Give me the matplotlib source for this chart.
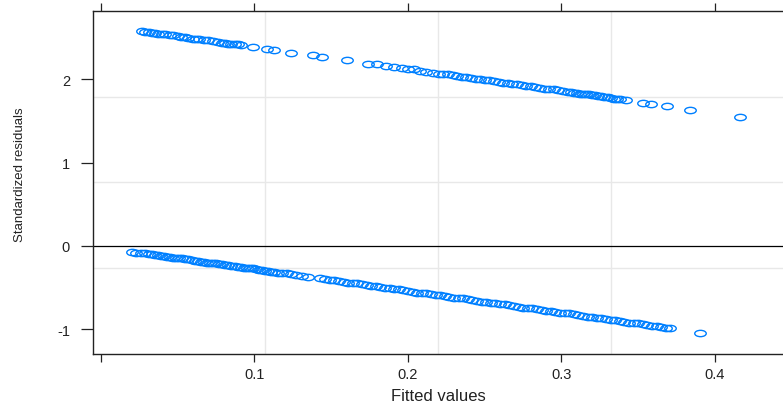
import matplotlib
matplotlib.use("Agg")
import matplotlib.pyplot as plt
from matplotlib.path import Path
from matplotlib.transforms import Affine2D

plt.rcParams["font.family"] = ["Liberation Sans", "DejaVu Sans"]

# fitted values and standardized residuals, upper band (observed = 1)
fit_hi = [0.027, 0.029, 0.031, 0.033, 0.035, 0.037, 0.040, 0.042, 0.045, 0.047,
          0.050, 0.052, 0.055, 0.057, 0.060, 0.062, 0.064, 0.067, 0.070, 0.073,
          0.076, 0.079, 0.081, 0.083, 0.085, 0.087, 0.089, 0.091, 0.099, 0.108,
          0.113, 0.124, 0.138, 0.144, 0.160, 0.174, 0.180, 0.186, 0.191, 0.196,
          0.200, 0.204, 0.208, 0.212, 0.216, 0.220, 0.223, 0.226, 0.229, 0.232,
          0.235, 0.238, 0.241, 0.244, 0.247, 0.250, 0.253, 0.256, 0.259, 0.262,
          0.265, 0.268, 0.271, 0.274, 0.277, 0.280, 0.283, 0.286, 0.289, 0.292,
          0.295, 0.298, 0.301, 0.304, 0.306, 0.308, 0.310, 0.312, 0.314, 0.316,
          0.318, 0.320, 0.322, 0.324, 0.326, 0.328, 0.330, 0.332, 0.334, 0.336,
          0.338, 0.342, 0.353, 0.358, 0.369, 0.384, 0.416]
res_hi = [2.58, 2.57, 2.57, 2.56, 2.56, 2.55, 2.54, 2.54, 2.53, 2.53,
          2.52, 2.51, 2.51, 2.50, 2.49, 2.49, 2.48, 2.47, 2.47, 2.46,
          2.45, 2.44, 2.44, 2.43, 2.43, 2.42, 2.42, 2.41, 2.39, 2.37,
          2.35, 2.32, 2.29, 2.27, 2.23, 2.19, 2.18, 2.16, 2.15, 2.14,
          2.13, 2.12, 2.10, 2.09, 2.08, 2.07, 2.07, 2.06, 2.05, 2.04,
          2.03, 2.03, 2.02, 2.01, 2.00, 1.99, 1.99, 1.98, 1.97, 1.96,
          1.96, 1.95, 1.94, 1.93, 1.92, 1.92, 1.91, 1.90, 1.89, 1.88,
          1.88, 1.87, 1.86, 1.85, 1.85, 1.84, 1.84, 1.83, 1.83, 1.82,
          1.82, 1.81, 1.81, 1.80, 1.80, 1.79, 1.79, 1.78, 1.77, 1.77,
          1.76, 1.75, 1.72, 1.71, 1.68, 1.63, 1.55]

# lower band (observed = 0)
fit_lo = [0.020, 0.023, 0.026, 0.029, 0.031, 0.033, 0.035, 0.037, 0.039, 0.041,
          0.043, 0.045, 0.047, 0.049, 0.051, 0.053, 0.055, 0.057, 0.059, 0.061,
          0.063, 0.065, 0.067, 0.069, 0.071, 0.073, 0.075, 0.077, 0.079, 0.081,
          0.083, 0.085, 0.087, 0.089, 0.091, 0.093, 0.095, 0.097, 0.099, 0.101,
          0.103, 0.105, 0.107, 0.109, 0.111, 0.113, 0.115, 0.118, 0.121, 0.124,
          0.127, 0.131, 0.135, 0.143, 0.146, 0.149, 0.152, 0.155, 0.158, 0.161,
          0.164, 0.167, 0.170, 0.173, 0.176, 0.179, 0.182, 0.185, 0.188, 0.191,
          0.194, 0.197, 0.200, 0.203, 0.206, 0.209, 0.212, 0.215, 0.218, 0.221,
          0.224, 0.227, 0.230, 0.233, 0.236, 0.239, 0.242, 0.245, 0.248, 0.251,
          0.254, 0.257, 0.260, 0.263, 0.266, 0.269, 0.272, 0.275, 0.278, 0.281,
          0.284, 0.287, 0.290, 0.293, 0.296, 0.299, 0.302, 0.305, 0.308, 0.311,
          0.314, 0.317, 0.320, 0.323, 0.326, 0.329, 0.332, 0.335, 0.338, 0.341,
          0.344, 0.347, 0.350, 0.353, 0.356, 0.359, 0.362, 0.365, 0.368, 0.371,
          0.390]
res_lo = [-0.07, -0.08, -0.08, -0.09, -0.10, -0.10, -0.11, -0.11, -0.12, -0.12,
          -0.13, -0.13, -0.14, -0.14, -0.15, -0.15, -0.16, -0.16, -0.17, -0.18,
          -0.18, -0.19, -0.19, -0.20, -0.20, -0.21, -0.21, -0.22, -0.22, -0.23,
          -0.23, -0.24, -0.24, -0.25, -0.25, -0.26, -0.26, -0.27, -0.27, -0.28,
          -0.29, -0.29, -0.30, -0.30, -0.31, -0.31, -0.32, -0.32, -0.33, -0.34,
          -0.35, -0.36, -0.37, -0.39, -0.40, -0.41, -0.41, -0.42, -0.43, -0.44,
          -0.45, -0.45, -0.46, -0.47, -0.48, -0.48, -0.49, -0.50, -0.51, -0.52,
          -0.52, -0.53, -0.54, -0.55, -0.56, -0.56, -0.57, -0.58, -0.59, -0.59,
          -0.60, -0.61, -0.62, -0.63, -0.63, -0.64, -0.65, -0.66, -0.67, -0.67,
          -0.68, -0.69, -0.70, -0.70, -0.71, -0.72, -0.73, -0.74, -0.74, -0.75,
          -0.76, -0.77, -0.78, -0.78, -0.79, -0.80, -0.81, -0.81, -0.82, -0.83,
          -0.84, -0.85, -0.85, -0.86, -0.87, -0.88, -0.89, -0.89, -0.90, -0.91,
          -0.92, -0.92, -0.93, -0.94, -0.95, -0.96, -0.96, -0.97, -0.98, -0.99,
          -1.04]

x_ticks = [0.1, 0.2, 0.3, 0.4]
y_ticks = [-1, 0, 1, 2]
x_grid = [0.1068, 0.2195, 0.3322]
y_grid = [-0.26, 0.77, 1.79]

blue = "#0080ff"
# wide, flat open circle like the reference
ellipse = Path.unit_circle().transformed(Affine2D().scale(1, 0.55))

fig = plt.figure(figsize=(7.83, 4.10), dpi=100)
ax = fig.add_axes([93 / 783, 55 / 410, 690 / 783, 343 / 410])

for gx in x_grid:
    ax.axvline(gx, color="#e8e8e8", lw=1.0, zorder=0)
for gy in y_grid:
    ax.axhline(gy, color="#e8e8e8", lw=1.0, zorder=0)
ax.axhline(0, color="black", lw=0.9, zorder=1)

ax.plot(fit_hi, res_hi, linestyle="none", marker=ellipse, ms=8.3,
        mfc="none", mec=blue, mew=1.0, zorder=2)
ax.plot(fit_lo, res_lo, linestyle="none", marker=ellipse, ms=8.3,
        mfc="none", mec=blue, mew=1.0, zorder=2)

ax.set_xlim(-0.0052, 0.4443)
ax.set_ylim(-1.297, 2.821)

ax.set_xticks([0.0] + x_ticks)
ax.set_xticklabels([""] + ["0.1", "0.2", "0.3", "0.4"])
ax.set_yticks(y_ticks)
ax.set_yticklabels(["-1", "0", "1", "2"])
ax.tick_params(axis="x", direction="out", length=5.8, width=0.9, pad=3.5,
               top=True, labelsize=10.5, colors="#222222")
ax.tick_params(axis="y", direction="out", length=8.5, width=0.9, pad=8,
               labelsize=10.5, colors="#222222")

ax.spines["right"].set_visible(False)
for s in ["left", "top", "bottom"]:
    ax.spines[s].set_linewidth(1.0)
    ax.spines[s].set_color("#222222")

fig.text(438 / 783, 1 - 401 / 410, "Fitted values", ha="center",
         va="baseline", fontsize=12, color="#222222")
fig.text(20 / 783, 1 - 175 / 410, "Standardized residuals", ha="center",
         va="center", rotation=90, fontsize=9.5, color="#222222")

fig.savefig("out.png", dpi=100)
